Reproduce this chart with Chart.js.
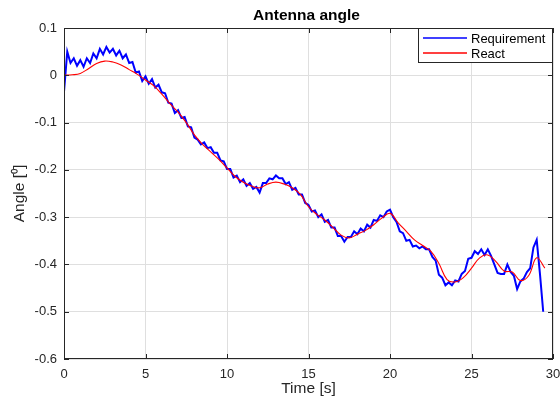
<!DOCTYPE html>
<html>
<head>
<meta charset="utf-8">
<script src="https://cdn.jsdelivr.net/npm/chart.js@4.4.1/dist/chart.umd.min.js"></script>
<style>
  html, body { margin: 0; padding: 0; background: #fff; }
</style>
</head>
<body>
<canvas id="chart" width="560" height="403"></canvas>
<script>
// Sample spacing of each signal [s]
const REQ_DT = 0.2;
const REACT_DT = 0.5;

// Requirement (blue, noisy), every 0.2 s from t = 0
const requirement = [
  -0.035, 0.050, 0.026, 0.036, 0.020, 0.032, 0.018, 0.036, 0.026, 0.046,
  0.036, 0.056, 0.044, 0.060, 0.048, 0.056, 0.042, 0.052, 0.036, 0.044,
  0.026, 0.028, 0.006, 0.008, -0.012, -0.002, -0.018, -0.008, -0.026, -0.020,
  -0.036, -0.038, -0.058, -0.060, -0.080, -0.074, -0.090, -0.088, -0.108, -0.110,
  -0.132, -0.136, -0.146, -0.142, -0.154, -0.152, -0.164, -0.164, -0.180, -0.182,
  -0.198, -0.198, -0.216, -0.212, -0.226, -0.220, -0.234, -0.228, -0.240, -0.236,
  -0.248, -0.228, -0.228, -0.218, -0.220, -0.212, -0.218, -0.218, -0.230, -0.226,
  -0.242, -0.238, -0.252, -0.252, -0.270, -0.274, -0.288, -0.286, -0.300, -0.294,
  -0.310, -0.306, -0.322, -0.322, -0.340, -0.340, -0.352, -0.342, -0.342, -0.330,
  -0.336, -0.324, -0.330, -0.316, -0.322, -0.306, -0.308, -0.296, -0.300, -0.288,
  -0.284, -0.300, -0.310, -0.330, -0.334, -0.350, -0.348, -0.362, -0.360, -0.366,
  -0.362, -0.368, -0.368, -0.384, -0.392, -0.422, -0.428, -0.444, -0.438, -0.444,
  -0.434, -0.436, -0.420, -0.414, -0.388, -0.386, -0.372, -0.378, -0.368, -0.380,
  -0.368, -0.382, -0.400, -0.418, -0.420, -0.420, -0.400, -0.416, -0.424, -0.452,
  -0.436, -0.430, -0.416, -0.408, -0.364, -0.348, -0.420, -0.500
];

// React (red, smooth), every 0.5 s from t = 0
const react = [
  0.000, 0.001, 0.004, 0.014, 0.025, 0.030, 0.028, 0.022, 0.012, 0.002,
  -0.010, -0.022, -0.040, -0.060, -0.078, -0.100, -0.126, -0.146, -0.162, -0.178,
  -0.196, -0.214, -0.226, -0.234, -0.238, -0.230, -0.226, -0.230, -0.238, -0.252,
  -0.278, -0.294, -0.306, -0.322, -0.338, -0.344, -0.336, -0.328, -0.316, -0.302,
  -0.292, -0.312, -0.330, -0.348, -0.360, -0.372, -0.398, -0.432, -0.437, -0.428,
  -0.408, -0.386, -0.380, -0.394, -0.414, -0.416, -0.434, -0.424, -0.386, -0.408
];

const xTicks = [0, 5, 10, 15, 20, 25, 30];
const yTicks = [0.1, 0, -0.1, -0.2, -0.3, -0.4, -0.5, -0.6];

const seriesNames = ['Requirement', 'React'];
const seriesColors = ['#0000ff', '#ff0000'];

const FONT = "'Liberation Sans', Arial, Helvetica, sans-serif";
const AXIS_COLOR = '#262626';

function toPoints(values, dt) {
  return values.map((v, i) => ({ x: +(i * dt).toFixed(2), y: v }));
}

// Background, title, box with inward ticks and the legend (MATLAB look)
const matlabFrame = {
  id: 'matlabFrame',
  beforeDraw(chart) {
    const { ctx } = chart;
    ctx.save();
    ctx.fillStyle = '#fff';
    ctx.fillRect(0, 0, chart.width, chart.height);
    ctx.restore();
  },
  afterDraw(chart) {
    const { ctx, chartArea: a, scales } = chart;
    ctx.save();

    // title
    ctx.fillStyle = '#000';
    ctx.font = `bold 15.5px ${FONT}`;
    ctx.textAlign = 'center';
    ctx.textBaseline = 'middle';
    ctx.fillText('Antenna angle', (a.left + a.right) / 2 - 2, 16);

    // box
    ctx.strokeStyle = AXIS_COLOR;
    ctx.lineWidth = 1;
    ctx.strokeRect(a.left + 0.5, a.top + 0.5, a.right - a.left - 1, a.bottom - a.top - 1);

    // inward ticks on all four sides
    const TL = 5;
    ctx.beginPath();
    xTicks.forEach(t => {
      const px = Math.round(scales.x.getPixelForValue(t)) + 0.5;
      ctx.moveTo(px, a.bottom); ctx.lineTo(px, a.bottom - TL);
      ctx.moveTo(px, a.top); ctx.lineTo(px, a.top + TL);
    });
    yTicks.forEach(t => {
      const py = Math.round(scales.y.getPixelForValue(t)) + 0.5;
      ctx.moveTo(a.left, py); ctx.lineTo(a.left + TL, py);
      ctx.moveTo(a.right, py); ctx.lineTo(a.right - TL, py);
    });
    ctx.stroke();

    // legend box in the top right corner
    const lw = 135, lh = 35;
    const lx = a.right - lw, ly = a.top;
    ctx.fillStyle = '#fff';
    ctx.fillRect(lx, ly, lw, lh);
    ctx.strokeRect(lx + 0.5, ly + 0.5, lw - 1, lh - 1);
    ctx.font = `13px ${FONT}`;
    ctx.textAlign = 'left';
    seriesNames.forEach((name, i) => {
      const y = ly + 10 + i * 15;
      ctx.strokeStyle = seriesColors[i];
      ctx.lineWidth = 1.3;
      ctx.beginPath();
      ctx.moveTo(lx + 5, y);
      ctx.lineTo(lx + 49, y);
      ctx.stroke();
      ctx.fillStyle = '#000';
      ctx.fillText(name, lx + 53, y + 1);
    });

    ctx.restore();
  }
};

new Chart(document.getElementById('chart'), {
  type: 'line',
  data: {
    datasets: [
      {
        label: seriesNames[0],
        data: toPoints(requirement, REQ_DT),
        borderColor: seriesColors[0],
        borderWidth: 2,
        pointRadius: 0,
        tension: 0,
        order: 1
      },
      {
        label: seriesNames[1],
        data: toPoints(react, REACT_DT),
        borderColor: seriesColors[1],
        borderWidth: 1.1,
        pointRadius: 0,
        tension: 0.4,
        order: 0
      }
    ]
  },
  options: {
    responsive: false,
    animation: false,
    layout: { padding: { top: 28, right: 7, left: 0, bottom: 0 } },
    plugins: {
      legend: { display: false },
      title: { display: false },
      tooltip: { enabled: false }
    },
    scales: {
      x: {
        type: 'linear',
        min: 0,
        max: 30,
        afterFit: s => { s.height = 44; s.paddingLeft = 0; s.paddingRight = 0; },
        afterBuildTicks: s => { s.ticks = xTicks.map(v => ({ value: v })); },
        ticks: {
          color: AXIS_COLOR,
          font: { family: FONT, size: 13 },
          padding: 8,
          maxRotation: 0,
          callback: v => String(v)
        },
        grid: { color: '#dfdfdf', drawTicks: false },
        border: { display: false },
        title: {
          display: true,
          text: 'Time [s]',
          color: AXIS_COLOR,
          font: { family: FONT, size: 15.5 },
          padding: { top: 0, bottom: 5 }
        }
      },
      y: {
        type: 'linear',
        min: -0.6,
        max: 0.1,
        afterFit: s => { s.width = 64; s.paddingTop = 0; s.paddingBottom = 0; },
        afterBuildTicks: s => { s.ticks = yTicks.map(v => ({ value: v })); },
        ticks: {
          color: AXIS_COLOR,
          font: { family: FONT, size: 13 },
          padding: 7,
          callback: v => String(Math.round(v * 10) / 10)
        },
        grid: { color: '#dfdfdf', drawTicks: false },
        border: { display: false },
        title: {
          display: true,
          text: 'Angle [⁰]',
          color: AXIS_COLOR,
          font: { family: FONT, size: 15.5 },
          padding: { top: 10, bottom: 0 }
        }
      }
    }
  },
  plugins: [matlabFrame]
});
</script>
</body>
</html>
